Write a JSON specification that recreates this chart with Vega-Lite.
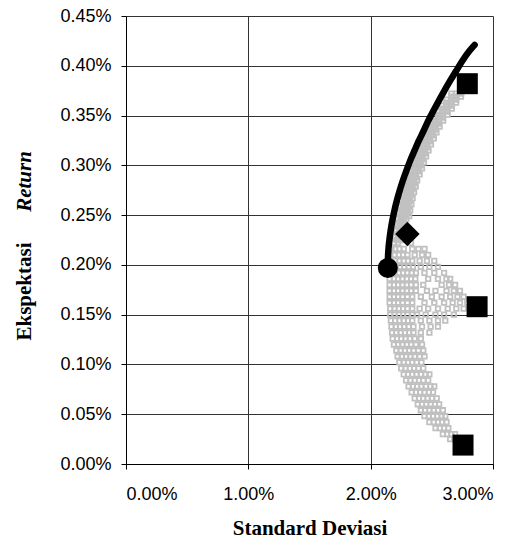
{
  "$schema": "https://vega.github.io/schema/vega-lite/v6.json",
  "width": 367,
  "height": 448,
  "autosize": "none",
  "padding": {"left": 126, "top": 16, "right": 38, "bottom": 85},
  "background": "white",
  "config": {
    "view": {"stroke": null},
    "axis": {
      "labelFont": "Liberation Sans",
      "labelFontSize": 18,
      "labelColor": "black",
      "titleFont": "Liberation Serif",
      "titleFontSize": 21,
      "titleFontWeight": "bold",
      "titleColor": "black",
      "domainColor": "black",
      "tickColor": "black",
      "tickSize": 5,
      "gridColor": "#333333",
      "gridWidth": 1,
      "gridOpacity": 1
    }
  },
  "datasets": {
    "cloud": [
      {"x":2.66,"y":0.372},{"x":2.70,"y":0.372},{"x":2.74,"y":0.372},
      {"x":2.658,"y":0.369},{"x":2.698,"y":0.369},{"x":2.738,"y":0.369},
      {"x":2.62,"y":0.366},{"x":2.66,"y":0.366},{"x":2.70,"y":0.366},
      {"x":2.618,"y":0.363},{"x":2.658,"y":0.363},{"x":2.698,"y":0.363},
      {"x":2.58,"y":0.360},{"x":2.62,"y":0.360},{"x":2.66,"y":0.360},
      {"x":2.583,"y":0.357},{"x":2.623,"y":0.357},{"x":2.663,"y":0.357},
      {"x":2.55,"y":0.354},{"x":2.59,"y":0.354},{"x":2.63,"y":0.354},
      {"x":2.553,"y":0.351},{"x":2.59,"y":0.351},{"x":2.628,"y":0.351},
      {"x":2.52,"y":0.348},{"x":2.555,"y":0.348},{"x":2.59,"y":0.348},
      {"x":2.523,"y":0.345},{"x":2.558,"y":0.345},{"x":2.593,"y":0.345},
      {"x":2.49,"y":0.342},{"x":2.525,"y":0.342},{"x":2.56,"y":0.342},
      {"x":2.493,"y":0.339},{"x":2.528,"y":0.339},{"x":2.563,"y":0.339},
      {"x":2.46,"y":0.336},{"x":2.495,"y":0.336},{"x":2.53,"y":0.336},
      {"x":2.468,"y":0.333},{"x":2.503,"y":0.333},{"x":2.538,"y":0.333},
      {"x":2.44,"y":0.330},{"x":2.475,"y":0.330},{"x":2.51,"y":0.330},
      {"x":2.446,"y":0.327},{"x":2.48,"y":0.327},{"x":2.516,"y":0.327},
      {"x":2.415,"y":0.324},{"x":2.45,"y":0.324},{"x":2.485,"y":0.324},
      {"x":2.423,"y":0.321},{"x":2.458,"y":0.321},{"x":2.493,"y":0.321},
      {"x":2.395,"y":0.318},{"x":2.43,"y":0.318},{"x":2.465,"y":0.318},
      {"x":2.403,"y":0.315},{"x":2.438,"y":0.315},{"x":2.473,"y":0.315},
      {"x":2.375,"y":0.312},{"x":2.41,"y":0.312},{"x":2.445,"y":0.312},
      {"x":2.383,"y":0.309},{"x":2.418,"y":0.309},{"x":2.453,"y":0.309},
      {"x":2.355,"y":0.306},{"x":2.39,"y":0.306},{"x":2.425,"y":0.306},
      {"x":2.366,"y":0.303},{"x":2.40,"y":0.303},{"x":2.436,"y":0.303},
      {"x":2.34,"y":0.300},{"x":2.375,"y":0.300},{"x":2.41,"y":0.300},
      {"x":2.35,"y":0.297},{"x":2.385,"y":0.297},{"x":2.42,"y":0.297},
      {"x":2.325,"y":0.294},{"x":2.36,"y":0.294},{"x":2.395,"y":0.294},
      {"x":2.33,"y":0.291},{"x":2.366,"y":0.291},{"x":2.40,"y":0.291},
      {"x":2.30,"y":0.288},{"x":2.335,"y":0.288},{"x":2.37,"y":0.288},
      {"x":2.31,"y":0.285},{"x":2.345,"y":0.285},{"x":2.38,"y":0.285},
      {"x":2.285,"y":0.282},{"x":2.32,"y":0.282},{"x":2.355,"y":0.282},
      {"x":2.298,"y":0.279},{"x":2.333,"y":0.279},{"x":2.368,"y":0.279},
      {"x":2.272,"y":0.276},{"x":2.307,"y":0.276},{"x":2.342,"y":0.276},
      {"x":2.285,"y":0.273},{"x":2.32,"y":0.273},{"x":2.355,"y":0.273},
      {"x":2.26,"y":0.270},{"x":2.295,"y":0.270},{"x":2.33,"y":0.270},
      {"x":2.273,"y":0.267},{"x":2.308,"y":0.267},{"x":2.343,"y":0.267},
      {"x":2.25,"y":0.264},{"x":2.285,"y":0.264},{"x":2.32,"y":0.264},
      {"x":2.263,"y":0.261},{"x":2.298,"y":0.261},{"x":2.333,"y":0.261},
      {"x":2.24,"y":0.258},{"x":2.275,"y":0.258},{"x":2.31,"y":0.258},
      {"x":2.253,"y":0.255},{"x":2.288,"y":0.255},{"x":2.323,"y":0.255},
      {"x":2.232,"y":0.252},{"x":2.267,"y":0.252},{"x":2.302,"y":0.252},
      {"x":2.245,"y":0.249},{"x":2.28,"y":0.249},{"x":2.315,"y":0.249},
      {"x":2.222,"y":0.246},{"x":2.257,"y":0.246},{"x":2.292,"y":0.246},
      {"x":2.235,"y":0.243},{"x":2.27,"y":0.243},
      {"x":2.22,"y":0.240},{"x":2.255,"y":0.240},
      {"x":2.233,"y":0.237},{"x":2.268,"y":0.237},
      {"x":2.21,"y":0.234},{"x":2.245,"y":0.234},
      {"x":2.223,"y":0.231},{"x":2.258,"y":0.231},
      {"x":2.20,"y":0.228},{"x":2.235,"y":0.228},
      {"x":2.213,"y":0.225},{"x":2.248,"y":0.225},
      {"x":2.19,"y":0.222},{"x":2.225,"y":0.222},{"x":2.33,"y":0.222},
      {"x":2.17,"y":0.216},{"x":2.20,"y":0.216},{"x":2.235,"y":0.216},{"x":2.27,"y":0.216},{"x":2.34,"y":0.216},{"x":2.39,"y":0.216},{"x":2.44,"y":0.216},
      {"x":2.16,"y":0.210},{"x":2.195,"y":0.210},{"x":2.23,"y":0.210},{"x":2.265,"y":0.210},{"x":2.30,"y":0.210},{"x":2.36,"y":0.210},{"x":2.42,"y":0.210},{"x":2.47,"y":0.210},
      {"x":2.165,"y":0.204},{"x":2.20,"y":0.204},{"x":2.235,"y":0.204},{"x":2.27,"y":0.204},{"x":2.305,"y":0.204},{"x":2.34,"y":0.204},{"x":2.40,"y":0.204},{"x":2.46,"y":0.204},{"x":2.52,"y":0.204},
      {"x":2.17,"y":0.198},{"x":2.205,"y":0.198},{"x":2.24,"y":0.198},{"x":2.275,"y":0.198},{"x":2.31,"y":0.198},{"x":2.345,"y":0.198},{"x":2.41,"y":0.198},{"x":2.48,"y":0.198},{"x":2.55,"y":0.198},
      {"x":2.16,"y":0.192},{"x":2.195,"y":0.192},{"x":2.23,"y":0.192},{"x":2.265,"y":0.192},{"x":2.30,"y":0.192},{"x":2.335,"y":0.192},{"x":2.37,"y":0.192},{"x":2.44,"y":0.192},{"x":2.52,"y":0.192},{"x":2.60,"y":0.192},
      {"x":2.155,"y":0.186},{"x":2.19,"y":0.186},{"x":2.225,"y":0.186},{"x":2.26,"y":0.186},{"x":2.295,"y":0.186},{"x":2.33,"y":0.186},{"x":2.365,"y":0.186},{"x":2.47,"y":0.186},{"x":2.55,"y":0.186},{"x":2.62,"y":0.186},{"x":2.65,"y":0.186},
      {"x":2.155,"y":0.180},{"x":2.19,"y":0.180},{"x":2.225,"y":0.180},{"x":2.26,"y":0.180},{"x":2.295,"y":0.180},{"x":2.33,"y":0.180},{"x":2.37,"y":0.180},{"x":2.43,"y":0.180},{"x":2.58,"y":0.180},{"x":2.64,"y":0.180},{"x":2.69,"y":0.180},
      {"x":2.155,"y":0.174},{"x":2.19,"y":0.174},{"x":2.225,"y":0.174},{"x":2.26,"y":0.174},{"x":2.295,"y":0.174},{"x":2.33,"y":0.174},{"x":2.37,"y":0.174},{"x":2.46,"y":0.174},{"x":2.53,"y":0.174},{"x":2.62,"y":0.174},{"x":2.68,"y":0.174},{"x":2.73,"y":0.174},
      {"x":2.155,"y":0.168},{"x":2.19,"y":0.168},{"x":2.225,"y":0.168},{"x":2.26,"y":0.168},{"x":2.30,"y":0.168},{"x":2.34,"y":0.168},{"x":2.41,"y":0.168},{"x":2.50,"y":0.168},{"x":2.58,"y":0.168},{"x":2.65,"y":0.168},{"x":2.71,"y":0.168},{"x":2.76,"y":0.168},
      {"x":2.155,"y":0.162},{"x":2.19,"y":0.162},{"x":2.225,"y":0.162},{"x":2.26,"y":0.162},{"x":2.30,"y":0.162},{"x":2.34,"y":0.162},{"x":2.44,"y":0.162},{"x":2.52,"y":0.162},{"x":2.60,"y":0.162},{"x":2.67,"y":0.162},{"x":2.73,"y":0.162},{"x":2.79,"y":0.162},
      {"x":2.16,"y":0.156},{"x":2.195,"y":0.156},{"x":2.23,"y":0.156},{"x":2.265,"y":0.156},{"x":2.30,"y":0.156},{"x":2.34,"y":0.156},{"x":2.40,"y":0.156},{"x":2.47,"y":0.156},{"x":2.55,"y":0.156},{"x":2.63,"y":0.156},{"x":2.70,"y":0.156},{"x":2.76,"y":0.156},
      {"x":2.16,"y":0.150},{"x":2.195,"y":0.150},{"x":2.23,"y":0.150},{"x":2.265,"y":0.150},{"x":2.30,"y":0.150},{"x":2.34,"y":0.150},{"x":2.38,"y":0.150},{"x":2.45,"y":0.150},{"x":2.53,"y":0.150},{"x":2.60,"y":0.150},{"x":2.68,"y":0.150},
      {"x":2.165,"y":0.144},{"x":2.20,"y":0.144},{"x":2.235,"y":0.144},{"x":2.27,"y":0.144},{"x":2.305,"y":0.144},{"x":2.34,"y":0.144},{"x":2.41,"y":0.144},{"x":2.48,"y":0.144},{"x":2.55,"y":0.144},{"x":2.61,"y":0.144},
      {"x":2.17,"y":0.138},{"x":2.205,"y":0.138},{"x":2.24,"y":0.138},{"x":2.275,"y":0.138},{"x":2.31,"y":0.138},{"x":2.35,"y":0.138},{"x":2.42,"y":0.138},{"x":2.49,"y":0.138},{"x":2.55,"y":0.138},
      {"x":2.175,"y":0.132},{"x":2.21,"y":0.132},{"x":2.245,"y":0.132},{"x":2.28,"y":0.132},{"x":2.315,"y":0.132},{"x":2.35,"y":0.132},{"x":2.41,"y":0.132},{"x":2.48,"y":0.132},
      {"x":2.18,"y":0.126},{"x":2.215,"y":0.126},{"x":2.25,"y":0.126},{"x":2.285,"y":0.126},{"x":2.32,"y":0.126},{"x":2.36,"y":0.126},{"x":2.41,"y":0.126},
      {"x":2.19,"y":0.120},{"x":2.225,"y":0.120},{"x":2.26,"y":0.120},{"x":2.295,"y":0.120},{"x":2.33,"y":0.120},{"x":2.37,"y":0.120},{"x":2.42,"y":0.120},
      {"x":2.21,"y":0.114},{"x":2.245,"y":0.114},{"x":2.28,"y":0.114},{"x":2.315,"y":0.114},{"x":2.35,"y":0.114},{"x":2.39,"y":0.114},{"x":2.43,"y":0.114},
      {"x":2.22,"y":0.108},{"x":2.255,"y":0.108},{"x":2.29,"y":0.108},{"x":2.325,"y":0.108},{"x":2.36,"y":0.108},{"x":2.40,"y":0.108},{"x":2.44,"y":0.108},
      {"x":2.235,"y":0.102},{"x":2.27,"y":0.102},{"x":2.305,"y":0.102},{"x":2.34,"y":0.102},{"x":2.375,"y":0.102},{"x":2.415,"y":0.102},
      {"x":2.25,"y":0.096},{"x":2.285,"y":0.096},{"x":2.32,"y":0.096},{"x":2.355,"y":0.096},{"x":2.39,"y":0.096},{"x":2.43,"y":0.096},
      {"x":2.27,"y":0.090},{"x":2.305,"y":0.090},{"x":2.34,"y":0.090},{"x":2.375,"y":0.090},{"x":2.41,"y":0.090},{"x":2.45,"y":0.090},{"x":2.48,"y":0.090},
      {"x":2.29,"y":0.084},{"x":2.325,"y":0.084},{"x":2.36,"y":0.084},{"x":2.395,"y":0.084},{"x":2.43,"y":0.084},{"x":2.47,"y":0.084},
      {"x":2.31,"y":0.078},{"x":2.345,"y":0.078},{"x":2.38,"y":0.078},{"x":2.415,"y":0.078},{"x":2.45,"y":0.078},{"x":2.49,"y":0.078},{"x":2.52,"y":0.078},
      {"x":2.335,"y":0.072},{"x":2.37,"y":0.072},{"x":2.405,"y":0.072},{"x":2.44,"y":0.072},{"x":2.475,"y":0.072},{"x":2.51,"y":0.072},
      {"x":2.36,"y":0.066},{"x":2.395,"y":0.066},{"x":2.43,"y":0.066},{"x":2.465,"y":0.066},{"x":2.50,"y":0.066},{"x":2.54,"y":0.066},
      {"x":2.385,"y":0.060},{"x":2.42,"y":0.060},{"x":2.455,"y":0.060},{"x":2.49,"y":0.060},{"x":2.525,"y":0.060},{"x":2.56,"y":0.060},
      {"x":2.41,"y":0.054},{"x":2.445,"y":0.054},{"x":2.48,"y":0.054},{"x":2.515,"y":0.054},{"x":2.55,"y":0.054},{"x":2.59,"y":0.054},
      {"x":2.44,"y":0.048},{"x":2.475,"y":0.048},{"x":2.51,"y":0.048},{"x":2.545,"y":0.048},{"x":2.58,"y":0.048},{"x":2.61,"y":0.048},
      {"x":2.48,"y":0.042},{"x":2.515,"y":0.042},{"x":2.55,"y":0.042},{"x":2.585,"y":0.042},{"x":2.62,"y":0.042},
      {"x":2.53,"y":0.036},{"x":2.565,"y":0.036},{"x":2.60,"y":0.036},{"x":2.635,"y":0.036},
      {"x":2.59,"y":0.030},{"x":2.625,"y":0.030},{"x":2.66,"y":0.030},{"x":2.69,"y":0.030},
      {"x":2.65,"y":0.025},{"x":2.685,"y":0.025},{"x":2.715,"y":0.025}
    ],
    "frontier": [
      {"x":2.140,"y":0.197},{"x":2.141,"y":0.205},{"x":2.145,"y":0.215},{"x":2.153,"y":0.225},
      {"x":2.164,"y":0.235},{"x":2.178,"y":0.245},{"x":2.195,"y":0.255},{"x":2.215,"y":0.265},
      {"x":2.238,"y":0.275},{"x":2.264,"y":0.285},{"x":2.293,"y":0.295},{"x":2.324,"y":0.305},
      {"x":2.359,"y":0.315},{"x":2.395,"y":0.325},{"x":2.434,"y":0.335},{"x":2.472,"y":0.345},
      {"x":2.514,"y":0.355},{"x":2.558,"y":0.365},{"x":2.603,"y":0.375},{"x":2.650,"y":0.385},
      {"x":2.700,"y":0.395},{"x":2.750,"y":0.405},{"x":2.808,"y":0.415},{"x":2.850,"y":0.421}
    ],
    "assets": [
      {"name":"A","x":2.79,"y":0.382},
      {"name":"B","x":2.87,"y":0.158},
      {"name":"C","x":2.755,"y":0.019}
    ],
    "optimal": [{"name":"Optimal","x":2.30,"y":0.231}],
    "minvar": [{"name":"MinVar","x":2.14,"y":0.197}]
  },
  "resolve": {"axis": {"y": "independent"}},
  "layer": [
    {
      "data": {"name": "cloud"},
      "mark": {"type": "point", "shape": "square", "filled": false, "color": "#c0c0c0", "size": 20, "strokeWidth": 1.8, "opacity": 1},
      "encoding": {
        "x": {"field": "x", "type": "quantitative",
              "scale": {"domain": [0, 3], "nice": false, "zero": false},
              "axis": {"values": [0, 1, 2, 3], "labelExpr": "format(datum.value, '.2f') + '%'", "title": "Standard Deviasi", "grid": true, "labelPadding": 16, "titlePadding": 14}},
        "y": {"field": "y", "type": "quantitative",
              "scale": {"domain": [0, 0.45], "nice": false, "zero": false},
              "axis": {"orient": "left", "values": [0, 0.05, 0.1, 0.15, 0.2, 0.25, 0.3, 0.35, 0.4, 0.45], "labelExpr": "format(datum.value, '.2f') + '%'", "title": "Ekspektasi", "grid": true, "labelPadding": 10, "titleX": -102, "titleY": 275, "titleBaseline": "middle", "titleAlign": "center", "titleAngle": 270}}
      }
    },
    {
      "data": {"name": "frontier"},
      "mark": {"type": "line", "color": "black", "strokeWidth": 6.5, "strokeCap": "round", "strokeJoin": "round", "interpolate": "monotone"},
      "encoding": {
        "x": {"field": "x", "type": "quantitative"},
        "y": {"field": "y", "type": "quantitative",
              "axis": {"orient": "left", "title": "Return", "titleFontStyle": "italic", "labels": false, "ticks": false, "domain": false, "grid": false, "titleX": -102, "titleY": 165, "titleBaseline": "middle", "titleAlign": "center", "titleAngle": 270}}
      }
    },
    {
      "data": {"name": "assets"},
      "mark": {"type": "point", "shape": "square", "filled": true, "color": "black", "size": 441, "opacity": 1},
      "encoding": {
        "x": {"field": "x", "type": "quantitative"},
        "y": {"field": "y", "type": "quantitative", "axis": null}
      }
    },
    {
      "data": {"name": "optimal"},
      "mark": {"type": "point", "shape": "diamond", "filled": true, "color": "black", "size": 600, "opacity": 1},
      "encoding": {
        "x": {"field": "x", "type": "quantitative"},
        "y": {"field": "y", "type": "quantitative", "axis": null}
      }
    },
    {
      "data": {"name": "minvar"},
      "mark": {"type": "point", "shape": "circle", "filled": true, "color": "black", "size": 400, "opacity": 1},
      "encoding": {
        "x": {"field": "x", "type": "quantitative"},
        "y": {"field": "y", "type": "quantitative", "axis": null}
      }
    }
  ]
}
